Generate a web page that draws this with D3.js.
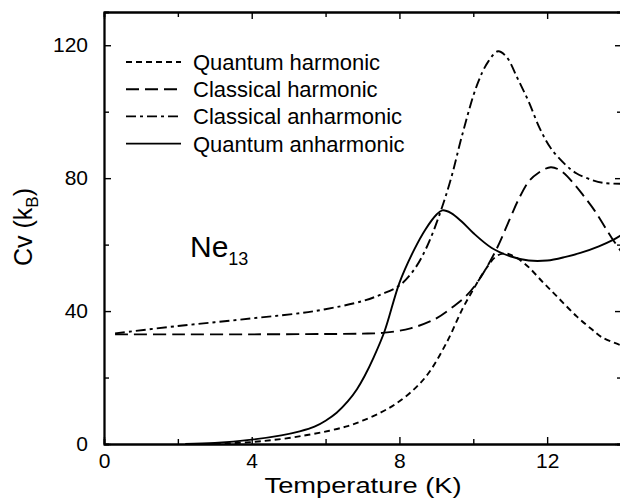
<!DOCTYPE html>
<html>
<head>
<meta charset="utf-8">
<script src="https://cdn.jsdelivr.net/npm/d3@7"></script>
<style>
  html, body { margin: 0; padding: 0; background: #fff; }
  svg { display: block; }
  text { font-family: "Liberation Sans", Arial, Helvetica, sans-serif; fill: #000; }
</style>
</head>
<body>
<div id="chart"></div>
<script>
// ------- data -------
const qhT  = [3.0, 4.0, 4.8, 5.5, 6.1, 6.6, 7.0, 7.5, 7.9, 8.4, 8.8, 9.3, 9.7, 10.0, 10.3, 10.6, 10.8, 11.0, 11.4, 11.9, 12.3, 12.8, 13.2, 13.5, 14.0];
const qhCv = [0, 0.6, 1.5, 2.7, 4.0, 5.4, 7.0, 9.5, 12.1, 16.5, 21.5, 31, 40.5, 46.5, 52, 56.3, 57.3, 57.0, 54.2, 48.5, 44, 38.4, 34.6, 32, 29.7];

const chT  = [0.3, 2, 4, 6, 7, 7.6, 8.3, 9.0, 9.5, 9.8, 10.1, 10.6, 11.0, 11.2, 11.5, 11.75, 12.1, 12.4, 12.75, 13.0, 13.3, 13.75, 14.0];
const chCv = [33, 33, 33, 33.1, 33.2, 33.5, 34.8, 37.8, 41.7, 44.5, 48.5, 58, 68, 73, 79, 81.5, 83.3, 82, 78, 74.5, 70, 62, 58];

const caT  = [0.3, 2, 4, 5.7, 7, 7.5, 8, 8.4, 8.75, 9.1, 9.4, 9.7, 10.1, 10.4, 10.67, 10.9, 11.2, 11.5, 11.8, 12.1, 12.5, 12.8, 13.2, 13.5, 14];
const caCv = [33.3, 35.5, 37.8, 40, 43, 45, 47.7, 52.5, 59.5, 69.5, 80, 93, 108, 115, 118.2, 116.5, 110, 103, 95, 89, 84, 81.4, 79.5, 78.6, 78.3];

const qaT  = [2.2, 3, 4, 4.8, 5.3, 5.7, 6.0, 6.3, 6.6, 6.85, 7.05, 7.3, 7.6, 8.0, 8.4, 8.7, 9.0, 9.16, 9.4, 9.7, 10.0, 10.5, 11.0, 11.5, 12.0, 12.5, 12.9, 13.4, 13.8, 14];
const qaCv = [0, 0.3, 1.3, 2.6, 3.8, 5.2, 7.0, 9.4, 12.8, 16.5, 20.3, 26, 34, 48.5, 58.5, 64.5, 69, 70.3, 69.5, 66.8, 63.5, 59, 56.5, 55.2, 55.2, 56.3, 57.5, 59.5, 61.5, 62.8];

const seriesNames = ["Quantum harmonic", "Classical harmonic", "Classical anharmonic", "Quantum anharmonic"];
const xTicks = [0, 4, 8, 12];
const xMinor = [2, 6, 10];
const yTicks = [0, 40, 80, 120];
const yMinor = [20, 60, 100];

// ------- layout -------
const width = 620, height = 503;
const margin = { top: 12, left: 104 };
const w = 517, h = 432;

const svg = d3.select("#chart").append("svg")
  .attr("width", width).attr("height", height);

const g = svg.append("g").attr("transform", `translate(${margin.left},${margin.top})`);

const x = d3.scaleLinear().domain([0, 14]).range([0, w]);
const y = d3.scaleLinear().domain([0, 130]).range([h, 0]);

const styleAxis = sel => {
  sel.attr("font-family", null);
  sel.selectAll("path.domain").attr("stroke", "#000").attr("stroke-width", 1.8);
  sel.selectAll(".tick line").attr("stroke", "#000").attr("stroke-width", 1.4);
  sel.selectAll("text").style("font-size", "21px").attr("fill", "#000");
};

// major axes
g.append("g").attr("transform", `translate(0,${h})`)
  .call(d3.axisBottom(x).tickValues(xTicks).tickSize(-7).tickSizeOuter(0).tickPadding(9).tickFormat(d3.format("d")))
  .call(styleAxis);
g.append("g")
  .call(d3.axisLeft(y).tickValues(yTicks).tickSize(-7).tickSizeOuter(0).tickPadding(16).tickFormat(d3.format("d")))
  .call(styleAxis);
g.append("g")
  .call(d3.axisTop(x).tickValues(xTicks).tickSize(-7).tickSizeOuter(0).tickFormat(""))
  .call(styleAxis);
// right axis sits just past the picture's edge: only its ticks show
g.append("g").attr("transform", `translate(${w + 2},0)`)
  .call(d3.axisRight(y).tickValues(yTicks).tickSize(-8).tickSizeOuter(0).tickFormat(""))
  .call(styleAxis);

// minor ticks
g.append("g").attr("transform", `translate(0,${h})`)
  .call(d3.axisBottom(x).tickValues(xMinor).tickSize(-5).tickFormat("")).call(styleAxis);
g.append("g")
  .call(d3.axisLeft(y).tickValues(yMinor).tickSize(-5).tickFormat("")).call(styleAxis);
g.append("g")
  .call(d3.axisTop(x).tickValues(xMinor).tickSize(-5).tickFormat("")).call(styleAxis);
g.append("g").attr("transform", `translate(${w + 2},0)`)
  .call(d3.axisRight(y).tickValues(yMinor).tickSize(-6).tickFormat("")).call(styleAxis);

// curves
const dashes = ["6,4", "13,6", "10,4,3,4", null];
const series = [
  qhT.map((t, i) => [t, qhCv[i]]),
  chT.map((t, i) => [t, chCv[i]]),
  caT.map((t, i) => [t, caCv[i]]),
  qaT.map((t, i) => [t, qaCv[i]])
];

svg.append("defs").append("clipPath").attr("id", "clip")
  .append("rect").attr("width", w).attr("height", h);

const line = d3.line()
  .x(d => x(d[0]))
  .y(d => y(d[1]))
  .curve(d3.curveCatmullRom.alpha(0.5));

g.append("g").attr("clip-path", "url(#clip)")
  .selectAll("path.curve")
  .data(series)
  .join("path")
  .attr("class", "curve")
  .attr("d", line)
  .attr("fill", "none")
  .attr("stroke", "#000")
  .attr("stroke-width", 1.9)
  .attr("stroke-dasharray", (d, i) => dashes[i]);

// legend
const legend = svg.append("g").attr("transform", "translate(126,62)");
seriesNames.forEach((name, i) => {
  const row = legend.append("g").attr("transform", `translate(0,${i * 27.2})`);
  row.append("line")
    .attr("x1", 0).attr("x2", 55).attr("y1", 0).attr("y2", 0)
    .attr("stroke", "#000").attr("stroke-width", 1.9)
    .attr("stroke-dasharray", dashes[i]);
  row.append("text")
    .attr("x", 67).attr("y", 0).attr("dy", "0.36em")
    .style("font-size", "22px")
    .text(name);
});

// Ne13 label
const ne = svg.append("text").attr("x", 190).attr("y", 257).style("font-size", "30px");
ne.append("tspan").text("Ne");
ne.append("tspan").attr("dy", 8).style("font-size", "18px").text("13");

// axis titles
svg.append("text")
  .attr("x", 363).attr("y", 493)
  .attr("text-anchor", "middle")
  .style("font-size", "22px")
  .attr("textLength", 197)
  .attr("lengthAdjust", "spacingAndGlyphs")
  .text("Temperature (K)");

const yt = svg.append("text")
  .attr("transform", "translate(32,227) rotate(-90)")
  .attr("text-anchor", "middle")
  .style("font-size", "25px");
yt.append("tspan").text("Cv (k");
yt.append("tspan").attr("dy", 6).style("font-size", "17px").text("B");
yt.append("tspan").attr("dy", -6).text(")");
</script>
</body>
</html>
